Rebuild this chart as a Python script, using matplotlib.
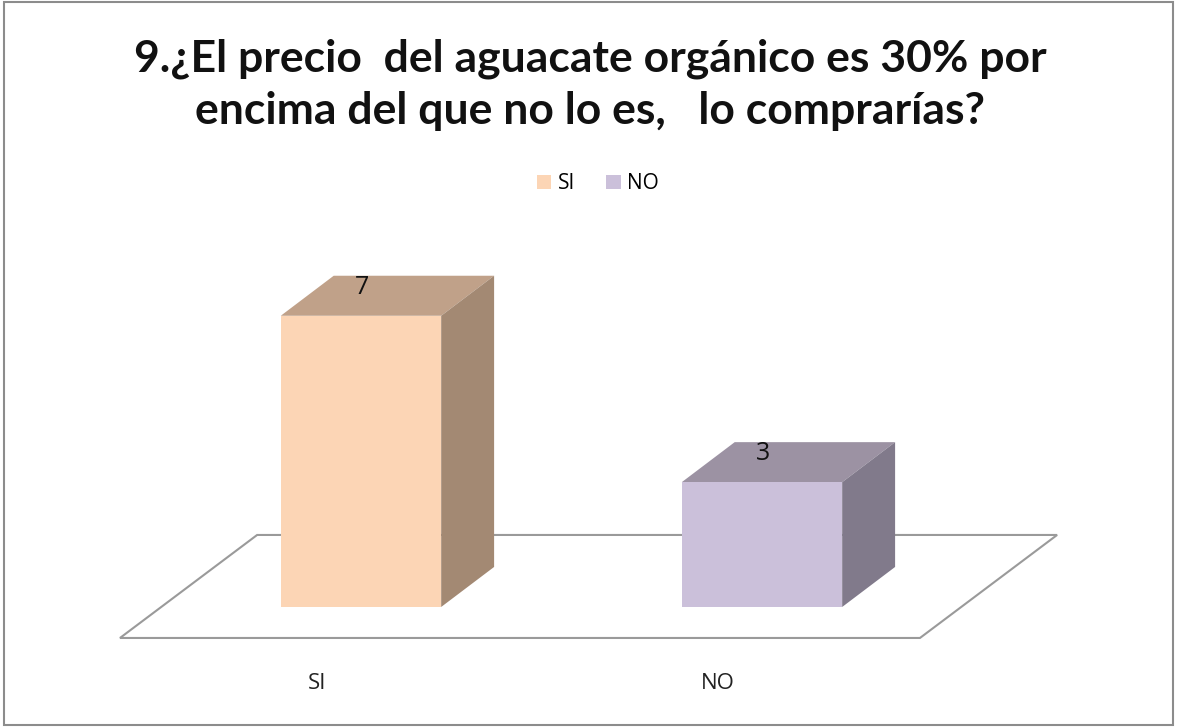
import matplotlib
matplotlib.use("Agg")
import matplotlib.pyplot as plt
from matplotlib.patches import Polygon, Rectangle

# ==========================
# Data
# ==========================
categories = ["SI", "NO"]
values = [7, 3]

title = "9.¿El precio  del aguacate orgánico es 30% por\nencima del que no lo es,   lo comprarías?"

# front / top / side shades per series
front_colors = ["#FCD5B5", "#CBC0DA"]
top_colors = ["#C0A189", "#9C92A3"]
side_colors = ["#A38973", "#817A8B"]

floor_gray = "#9A9A9A"
border_gray = "#8C8C8C"

# 3D geometry in data units (x = category index, y = value)
bar_w = 0.40
depth_dx = 0.132
depth_dy = 0.962


def draw_box(ax, x0, h, front, top, side):
    x1 = x0 + bar_w
    ax.add_patch(Polygon([(x0, h), (x1, h), (x1 + depth_dx, h + depth_dy),
                          (x0 + depth_dx, h + depth_dy)],
                         closed=True, facecolor=top, edgecolor="none", zorder=3))
    ax.add_patch(Polygon([(x1, 0), (x1 + depth_dx, depth_dy),
                          (x1 + depth_dx, h + depth_dy), (x1, h)],
                         closed=True, facecolor=side, edgecolor="none", zorder=3))
    ax.add_patch(Rectangle((x0, 0), bar_w, h, facecolor=front,
                           edgecolor="none", zorder=4))


def make_chart():
    fig = plt.figure(figsize=(11.77, 7.27), dpi=100)
    ax = fig.add_axes([0, 0, 1, 1])
    ax.set_xlim(-0.9002, 2.035)
    ax.set_ylim(-2.885, 14.59)
    ax.axis("off")

    # outer chart border
    fig.add_artist(Rectangle((0.003, 0.003), 0.994, 0.994, transform=fig.transFigure,
                             fill=False, edgecolor=border_gray, lw=1.5))

    # floor
    floor = Polygon([(-0.601, -0.745), (1.394, -0.745), (1.736, 1.731), (-0.259, 1.731)],
                    closed=True, facecolor="white", edgecolor=floor_gray, lw=1.5, zorder=1)
    ax.add_patch(floor)

    for i, (cat, v) in enumerate(zip(categories, values)):
        x0 = i - bar_w / 2
        draw_box(ax, x0, v, front_colors[i], top_colors[i], side_colors[i])
        ax.text(i + 0.003, v + 0.69, f"{v}", ha="center", va="center",
                fontsize=18, family="Open Sans", color="#111111", zorder=5)
        ax.text(i - 0.11, -1.83, cat, ha="center", va="center",
                fontsize=16, family="Open Sans", color="#222222")

    # title
    fig.text(0.5015, 0.883, title, ha="center", va="center", fontsize=32,
             fontweight="bold", family="Lato", linespacing=1.37, color="#111111")

    # legend
    handles = [Rectangle((0, 0), 1, 1, facecolor=c, edgecolor="none") for c in front_colors]
    fig.legend(handles, categories, loc="center", bbox_to_anchor=(0.508, 0.747),
               ncol=2, frameon=False, handlelength=0.7, handleheight=0.7,
               handletextpad=0.3, columnspacing=1.5,
               prop={"family": "Open Sans", "size": 15})

    fig.savefig("out.png", dpi=100)
    plt.close(fig)


if __name__ == "__main__":
    make_chart()
